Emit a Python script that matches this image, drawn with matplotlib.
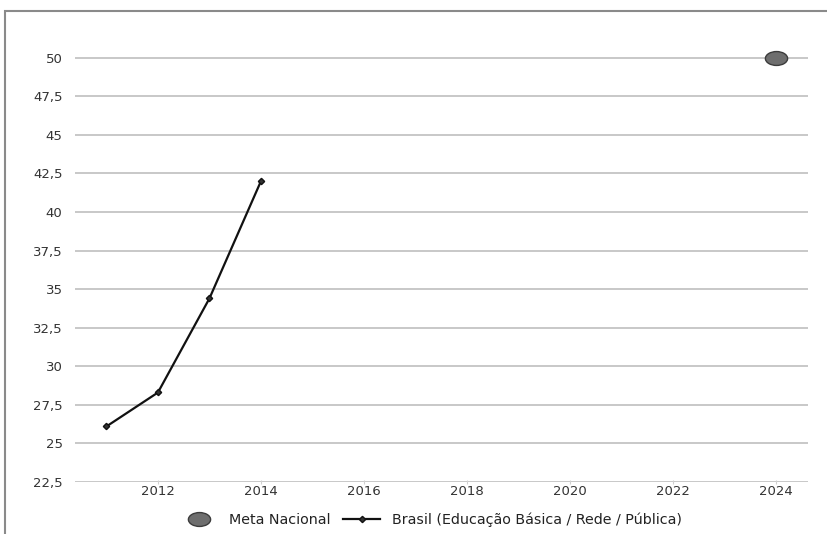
import matplotlib
matplotlib.use("Agg")
import matplotlib.pyplot as plt
from matplotlib.path import Path
from matplotlib.lines import Line2D
from matplotlib.patches import Rectangle
import numpy as np

years = [2011, 2012, 2013, 2014]
brasil = [26.1, 28.3, 34.4, 42.0]
meta_year = [2024]
meta_value = [50]
y_ticks = [22.5, 25, 27.5, 30, 32.5, 35, 37.5, 40, 42.5, 45, 47.5, 50]
x_ticks = [2012, 2014, 2016, 2018, 2020, 2022, 2024]

plt.rcParams['font.family'] = ['DejaVu Sans']

fig = plt.figure(figsize=(8.27, 5.34), dpi=100)
ax = fig.add_axes([0.0907, 0.0974, 0.977 - 0.0907, 0.944 - 0.0974])

# outer gray frame
fig.patches.append(Rectangle((5 / 827, -0.1), 1.2, 1 - 11 / 534 + 0.1,
                             transform=fig.transFigure, fill=False,
                             edgecolor='#8a8a8a', linewidth=1.5))

circ = Path.unit_circle()
ellipse = Path(circ.vertices * np.array([1.6, 1.0]), circ.codes)

ax.plot(years, brasil, color='#111111', linewidth=1.6, marker='D',
        markersize=3.2, markerfacecolor='#333333', markeredgecolor='#111111',
        zorder=3)
ax.plot(meta_year, meta_value, linestyle='none', marker=ellipse,
        markersize=16, markerfacecolor='#6e6e6e', markeredgecolor='#3c3c3c',
        markeredgewidth=1.0, zorder=4)

ax.set_xlim(2010.39, 2024.62)
ax.set_ylim(22.5, 51.8)
ax.set_yticks(y_ticks)
ax.set_yticklabels([("%g" % v).replace('.', ',') for v in y_ticks])
ax.set_xticks(x_ticks)
ax.set_xticklabels([str(v) for v in x_ticks])

for v in y_ticks:
    ax.axhline(v, color='#c8c8c8', linewidth=1.4, zorder=1)

for s in ax.spines.values():
    s.set_visible(False)
ax.tick_params(axis='y', length=0, pad=9, labelsize=9.5, labelcolor='#333333')
ax.tick_params(axis='x', length=3, width=0.8, color='#d0d0d0', direction='inout',
               pad=1, labelsize=9.5, labelcolor='#333333')

handles = [
    Line2D([], [], linestyle='none', marker=ellipse, markersize=16,
           markerfacecolor='#6e6e6e', markeredgecolor='#3c3c3c'),
    Line2D([], [], color='#111111', linewidth=1.6, marker='D', markersize=3.2,
           markerfacecolor='#333333', markeredgecolor='#111111'),
]
labels = ['Meta Nacional', 'Brasil (Educação Básica / Rede / Pública)']
fig.legend(handles, labels, loc='center', bbox_to_anchor=(431 / 827, 1 - 520 / 534),
           ncol=2, frameon=False, fontsize=10.3, handlelength=2.6,
           columnspacing=0.9, handletextpad=0.8, labelcolor='#222222')

fig.savefig('out.png', dpi=100)
